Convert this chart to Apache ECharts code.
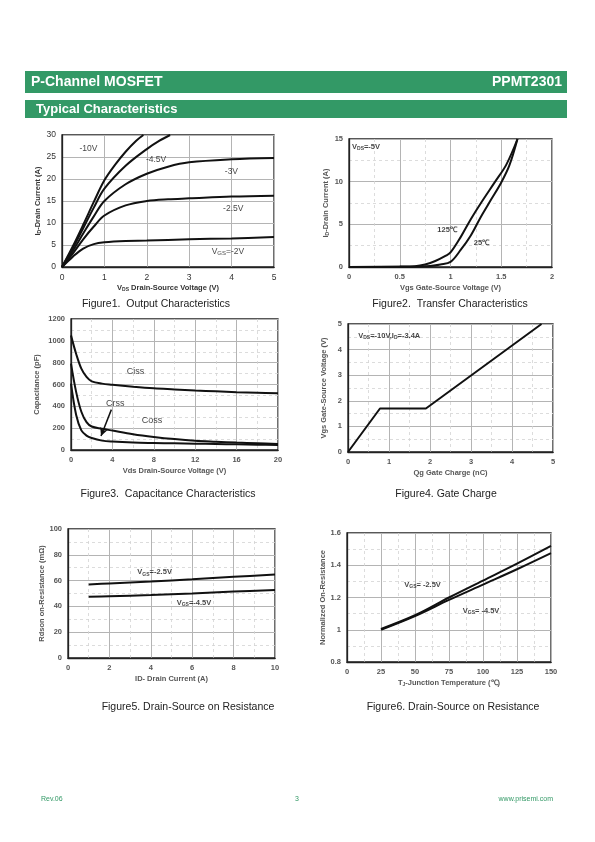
<!DOCTYPE html>
<html><head><meta charset="utf-8">
<script src="https://cdn.jsdelivr.net/npm/echarts@6/dist/echarts.min.js"></script>
<style>html,body{margin:0;padding:0;background:#fff}#c{width:595px;height:842px}</style>
</head><body><div id="c"></div>
<script>
// ---------- Figure 1: Output characteristics ----------
const f1X_2 = [0,0.25,0.5,0.75,1,1.5,2,3,4,5];
const f1Y_2 = [0,2.3,4.2,5.2,5.6,5.9,6.0,6.3,6.5,6.8];
const f1X_25 = [0,0.25,0.5,0.75,1,1.5,2,2.5,3,4,5];
const f1Y_25 = [0,3,6.3,9.2,11.7,14,15,15.4,15.6,16,16.2];
const f1X_3 = [0,0.25,0.5,0.75,1,1.5,2,2.5,3,4,5];
const f1Y_3 = [0,3.6,7.6,11.5,15,18.8,21.2,22.8,23.8,24.5,24.8];
const f1X_45 = [0,0.25,0.5,0.75,1,1.5,2,2.3,2.55];
const f1Y_45 = [0,4.2,8.8,13.5,17.8,23,26.8,28.7,30];
const f1X_10 = [0,0.25,0.5,0.75,1,1.25,1.5,1.75,1.92];
const f1Y_10 = [0,4.6,9.6,14.8,19.7,23.2,26.2,28.7,30];
// ---------- Figure 2: Transfer characteristics ----------
const f2X_25 = [0,0.5,0.7,0.8,0.9,1.0,1.1,1.2,1.3,1.4,1.5,1.58,1.66];
const f2Y_25 = [0,0.02,0.05,0.12,0.3,0.6,2.0,3.7,5.9,7.9,9.9,11.9,15];
const f2X_125 = [0,0.5,0.65,0.75,0.85,0.95,1.0,1.1,1.2,1.3,1.44,1.55,1.66];
const f2Y_125 = [0,0.05,0.1,0.3,0.7,1.3,1.7,3.5,5.6,7.5,10,12,15];
// ---------- Figure 3: Capacitance ----------
const f3X = [0,0.5,1,1.5,2,3,4,6,8,10,12,14,16,18,20];
const f3Ciss = [1050,880,745,669,629,608,598,580,565,555,545,538,530,525,520];
const f3Coss = [791,530,350,255,215,195,178,145,120,100,85,76,68,62,56];
const f3Crss = [607,320,180,132,110,86,77,68,64,61,58,55,52,49,46];
// ---------- Figure 4: Gate charge ----------
const f4X = [0,0.78,1.9,4.72];
const f4Y = [0,1.7,1.7,5];
// ---------- Figure 5: Rdson vs ID ----------
const f5X = [1,2,4,6,8,10];
const f5Y_25 = [57,57.8,59.3,61,62.9,64.8];
const f5Y_45 = [47.5,47.9,48.8,50,51.5,52.8];
// ---------- Figure 6: Normalized Rdson vs Tj ----------
const f6X = [25,50,75,100,125,150];
const f6Y_25 = [1.005,1.09,1.2,1.305,1.41,1.52];
const f6Y_45 = [1.0,1.085,1.185,1.28,1.375,1.475];

const FONT = '"Liberation Sans", Arial, Helvetica, sans-serif';
const GREEN = '#339966';

function rich(size, weight, color) {
  return {
    n: {fontSize: size, fontWeight: weight, color: color, fontFamily: FONT, lineHeight: Math.round(size * 1.2), verticalAlign: 'middle'},
    s: {fontSize: Math.max(5, Math.round(size * 0.7)), fontWeight: weight, color: color, fontFamily: FONT, lineHeight: Math.round(size * 0.6), verticalAlign: 'bottom'}
  };
}
function pairs(xs, ys) { return xs.map((x, i) => [x, ys[i]]); }

const grids = [
  {left: 62, top: 135, width: 212, height: 132},
  {left: 349, top: 139, width: 203, height: 128},
  {left: 71, top: 319, width: 207, height: 131},
  {left: 348, top: 324, width: 205, height: 128},
  {left: 68, top: 529, width: 207, height: 129},
  {left: 347, top: 533, width: 204, height: 129}
].map(g => Object.assign({show: true, borderColor: '#222', borderWidth: 1.3, backgroundColor: 'transparent'}, g));

function axis(gi, min, max, interval, name, nameGap, o) {
  o = o || {};
  const bold = o.bold !== false;
  const lblColor = o.lblColor || '#555';
  return {
    type: 'value', gridIndex: gi, min: min, max: max, interval: interval,
    axisLine: {show: true, onZero: false, lineStyle: {color: '#222', width: 1.3}},
    axisTick: {show: false},
    axisLabel: {fontSize: o.lblSize || 7.5, fontWeight: bold ? 'bold' : 'normal', color: lblColor, margin: o.margin || 6, fontFamily: FONT,
      formatter: o.fmt || (v => String(v))},
    splitLine: {show: true, lineStyle: {color: '#b4b4b4', width: 1}},
    minorTick: {show: false, splitNumber: 2},
    minorSplitLine: {show: !!o.minor, lineStyle: {color: '#d4d4d4', width: 0.8, type: [3, 3]}},
    name: name, nameLocation: 'middle', nameGap: nameGap,
    nameTextStyle: {rich: rich(o.nameSize || 7.5, 'bold', o.nameColor || '#555')}
  };
}

const xAxes = [
  axis(0, 0, 5, 1, '{n|V}{s|DS}{n| Drain-Source Voltage (V)}', 16, {bold: false, lblSize: 8.5, lblColor: '#333', nameColor: '#333', nameSize: 7.5}),
  axis(1, 0, 2, 0.5, '{n|Vgs Gate-Source Voltage (V)}', 16, {minor: true}),
  axis(2, 0, 20, 4, '{n|Vds Drain-Source Voltage (V)}', 16, {minor: true}),
  axis(3, 0, 5, 1, '{n|Qg Gate Charge (nC)}', 16, {minor: true}),
  axis(4, 0, 10, 2, '{n|ID- Drain Current (A)}', 16, {minor: true}),
  axis(5, 0, 150, 25, '{n|T}{s|J}{n|-Junction Temperature (℃)}', 16, {minor: true})
];
const yAxes = [
  axis(0, 0, 30, 5, '{n|I}{s|D}{n|-Drain Current (A)}', 20, {bold: false, lblSize: 8.5, lblColor: '#333', nameColor: '#333'}),
  axis(1, 0, 15, 5, '{n|I}{s|D}{n|-Drain Current (A)}', 19, {minor: true}),
  axis(2, 0, 1200, 200, '{n|Capacitance (pF)}', 30, {minor: true}),
  axis(3, 0, 5, 1, '{n|Vgs Gate-Source Voltage (V)}', 20, {minor: true}),
  axis(4, 0, 100, 20, '{n|Rdson on-Resistance (mΩ)}', 22, {minor: true}),
  axis(5, 0.8, 1.6, 0.2, '{n|Normalized On-Resistance}', 20, {minor: true, fmt: v => String(Math.round(v * 10) / 10)})
];

function line(gi, xs, ys) {
  return {type: 'line', xAxisIndex: gi, yAxisIndex: gi, data: pairs(xs, ys), symbol: 'none', smooth: 0.35,
    lineStyle: {color: '#111', width: 2}, silent: true, clip: true, z: 3};
}
function note(gi, x, y, text, size, weight) {
  return {type: 'scatter', xAxisIndex: gi, yAxisIndex: gi, data: [[x, y]], symbolSize: 0, silent: true, z: 5,
    label: {show: true, position: [0, 0], align: 'left', verticalAlign: 'middle', formatter: text,
      rich: rich(size, weight, '#111')}};
}

const series = [
  line(0, f1X_2, f1Y_2), line(0, f1X_25, f1Y_25), line(0, f1X_3, f1Y_3), line(0, f1X_45, f1Y_45), line(0, f1X_10, f1Y_10),
  note(0, 0.41, 26.8, '{n|-10V}', 8.5, 'normal'),
  note(0, 1.98, 24.5, '{n|-4.5V}', 8.5, 'normal'),
  note(0, 3.84, 21.7, '{n|-3V}', 8.5, 'normal'),
  note(0, 3.80, 13.3, '{n|-2.5V}', 8.5, 'normal'),
  note(0, 3.53, 3.5, '{n|V}{s|GS}{n|=-2V}', 8.5, 'normal'),

  line(1, f2X_25, f2Y_25), line(1, f2X_125, f2Y_125),
  note(1, 0.03, 14.1, '{n|V}{s|DS}{n|=-5V}', 7.5, 'bold'),
  note(1, 0.87, 4.3, '{n|125℃}', 7.5, 'bold'),
  note(1, 1.23, 2.8, '{n|25℃}', 7.5, 'bold'),

  line(2, f3X, f3Ciss), line(2, f3X, f3Coss), line(2, f3X, f3Crss),
  note(2, 5.38, 717, '{n|Ciss}', 9, 'normal'),
  note(2, 3.38, 428, '{n|Crss}', 9, 'normal'),
  note(2, 6.83, 266, '{n|Coss}', 9, 'normal'),
  {type: 'line', xAxisIndex: 2, yAxisIndex: 2, data: [], silent: true,
    markLine: {silent: true, symbol: ['none', 'arrow'], symbolSize: [6, 8], label: {show: false},
      lineStyle: {color: '#111', width: 1.5, type: 'solid'},
      data: [[{coord: [3.9, 370]}, {coord: [2.9, 128]}]]}},

  Object.assign(line(3, f4X, f4Y), {smooth: false}),
  note(3, 0.25, 4.53, '{n|V}{s|DS}{n|=-10V,I}{s|D}{n|=-3.4A}', 7.5, 'bold'),

  line(4, f5X, f5Y_25), line(4, f5X, f5Y_45),
  note(4, 3.35, 66.4, '{n|V}{s|GS}{n|=-2.5V}', 7.5, 'bold'),
  note(4, 5.25, 42.9, '{n|V}{s|GS}{n|=-4.5V}', 7.5, 'bold'),

  line(5, f6X, f6Y_25), line(5, f6X, f6Y_45),
  note(5, 42.1, 1.277, '{n|V}{s|GS}{n|= -2.5V}', 7.5, 'bold'),
  note(5, 85.1, 1.118, '{n|V}{s|GS}{n|= -4.5V}', 7.5, 'bold')
];

function cap(x, y, text) {
  return {type: 'text', x: x, y: y, style: {text: text, fill: '#222', font: '10.5px ' + FONT, textAlign: 'center', textVerticalAlign: 'middle'}};
}

const graphic = [
  {type: 'rect', shape: {x: 25, y: 71, width: 542, height: 22}, style: {fill: GREEN}},
  {type: 'text', x: 31, y: 82, style: {text: 'P-Channel MOSFET', fill: '#fff', font: 'bold 14px ' + FONT, textVerticalAlign: 'middle'}},
  {type: 'text', x: 562, y: 82, style: {text: 'PPMT2301', fill: '#fff', font: 'bold 14px ' + FONT, textAlign: 'right', textVerticalAlign: 'middle'}},
  {type: 'rect', shape: {x: 25, y: 100, width: 542, height: 18}, style: {fill: GREEN}},
  {type: 'text', x: 36, y: 109, style: {text: 'Typical Characteristics', fill: '#fff', font: 'bold 13px ' + FONT, textVerticalAlign: 'middle'}},
  cap(156, 304, 'Figure1.  Output Characteristics'),
  cap(450, 304, 'Figure2.  Transfer Characteristics'),
  cap(168, 494, 'Figure3.  Capacitance Characteristics'),
  cap(446, 494, 'Figure4. Gate Charge'),
  cap(188, 707, 'Figure5. Drain-Source on Resistance'),
  cap(453, 707, 'Figure6. Drain-Source on Resistance'),
  {type: 'text', x: 41, y: 799, style: {text: 'Rev.06', fill: GREEN, font: '7px ' + FONT, textVerticalAlign: 'middle'}},
  {type: 'text', x: 297, y: 799, style: {text: '3', fill: GREEN, font: '7px ' + FONT, textAlign: 'center', textVerticalAlign: 'middle'}},
  {type: 'text', x: 553, y: 799, style: {text: 'www.prisemi.com', fill: GREEN, font: '7px ' + FONT, textAlign: 'right', textVerticalAlign: 'middle'}}
];

const chart = echarts.init(document.getElementById('c'), null, {renderer: 'canvas'});
chart.setOption({
  animation: false,
  backgroundColor: '#fff',
  textStyle: {fontFamily: FONT},
  grid: grids,
  xAxis: xAxes,
  yAxis: yAxes,
  series: series,
  graphic: graphic
});
</script>
</body></html>
